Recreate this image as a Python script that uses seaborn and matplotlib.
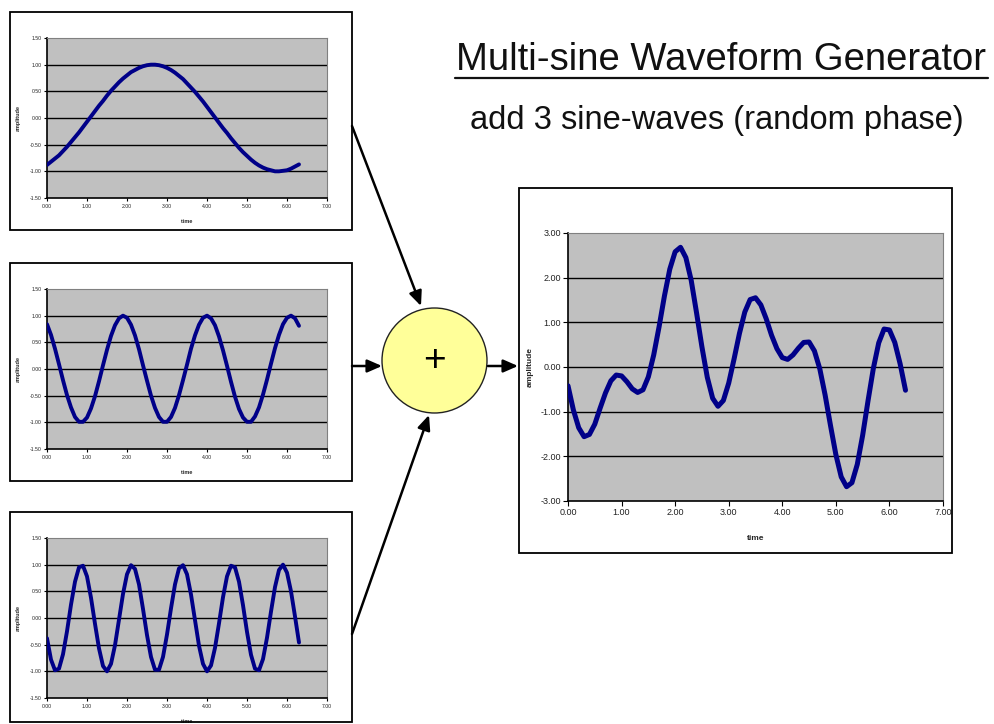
import numpy as np
import pandas as pd
import seaborn as sns
import matplotlib.pyplot as plt
from matplotlib.patches import Rectangle, Ellipse, FancyArrowPatch
from matplotlib.lines import Line2D

# sample times, 0.1 apart (0 .. 6.3)
time = np.linspace(0, 6.3, 64)

# the three input sine-waves
wave_1 = [-0.88, -0.82, -0.76, -0.70, -0.62, -0.54, -0.45, -0.36, -0.27, -0.17,
          -0.07, 0.03, 0.13, 0.23, 0.32, 0.42, 0.51, 0.59, 0.67, 0.74,
          0.80, 0.86, 0.90, 0.94, 0.97, 0.99, 1.00, 1.00, 0.99, 0.97,
          0.94, 0.90, 0.85, 0.79, 0.73, 0.65, 0.57, 0.49, 0.40, 0.31,
          0.21, 0.11, 0.01, -0.09, -0.19, -0.28, -0.38, -0.47, -0.56, -0.64,
          -0.71, -0.78, -0.84, -0.89, -0.93, -0.96, -0.98, -1.00, -1.00, -0.99,
          -0.98, -0.95, -0.91, -0.87]
wave_2 = [0.84, 0.64, 0.38, 0.09, -0.21, -0.49, -0.72, -0.90, -0.99, -0.99,
          -0.91, -0.74, -0.51, -0.23, 0.07, 0.36, 0.62, 0.82, 0.95, 1.00,
          0.96, 0.83, 0.63, 0.37, 0.07, -0.22, -0.50, -0.73, -0.90, -0.99,
          -0.99, -0.90, -0.73, -0.49, -0.21, 0.08, 0.38, 0.63, 0.83, 0.96,
          1.00, 0.95, 0.82, 0.61, 0.35, 0.06, -0.24, -0.52, -0.75, -0.91,
          -0.99, -0.99, -0.89, -0.72, -0.48, -0.20, 0.10, 0.39, 0.64, 0.84,
          0.96, 1.00, 0.95, 0.81]
wave_3 = [-0.38, -0.78, -0.98, -0.95, -0.68, -0.25, 0.25, 0.68, 0.95, 0.98,
          0.78, 0.38, -0.11, -0.57, -0.90, -1.00, -0.86, -0.51, -0.03, 0.45,
          0.82, 0.99, 0.92, 0.63, 0.17, -0.32, -0.73, -0.97, -0.97, -0.73,
          -0.31, 0.18, 0.63, 0.93, 0.99, 0.82, 0.44, -0.04, -0.52, -0.86,
          -1.00, -0.89, -0.56, -0.10, 0.39, 0.78, 0.98, 0.95, 0.68, 0.24,
          -0.26, -0.69, -0.95, -0.98, -0.77, -0.37, 0.12, 0.58, 0.90, 1.00,
          0.85, 0.50, 0.03, -0.46]

# the output is the sum of the three inputs
multi_sine = np.array(wave_1) + np.array(wave_2) + np.array(wave_3)

x_ticks = [0, 1, 2, 3, 4, 5, 6, 7]
small_y_ticks = [-1.5, -1.0, -0.5, 0.0, 0.5, 1.0, 1.5]
big_y_ticks = [-3, -2, -1, 0, 1, 2, 3]

W, H = 994, 724
NAVY = '#000088'
PLOT_BG = '#c0c0c0'

sns.set_style('white')
plt.rcParams['font.family'] = ['Liberation Sans', 'DejaVu Sans']

fig = plt.figure(figsize=(W / 100, H / 100), dpi=100)


def pt(x, y):
    # pixel position (top-left origin) -> figure fraction
    return (x / W, 1 - y / H)


def chart_box(x0, y0, x1, y1):
    fig.add_artist(Rectangle(pt(x0, y1), (x1 - x0) / W, (y1 - y0) / H,
                             transform=fig.transFigure, fill=False,
                             ec='black', lw=1.3))


def excel_chart(plot_px, values, y_ticks, tick_size, label_size, lw, tick_len,
                ylab_x, xlab_y):
    x0, y0, x1, y1 = plot_px
    ax = fig.add_axes([x0 / W, 1 - y1 / H, (x1 - x0) / W, (y1 - y0) / H])
    df = pd.DataFrame({'time': time, 'amplitude': values})
    sns.lineplot(data=df, x='time', y='amplitude', ax=ax, color=NAVY, lw=lw,
                 zorder=3)
    ax.set_facecolor(PLOT_BG)
    for y in y_ticks[1:-1]:
        ax.axhline(y, color='black', lw=1.0, zorder=1)
    ax.set_xlim(0, 7)
    ax.set_ylim(y_ticks[0], y_ticks[-1])
    ax.set_xticks(x_ticks)
    ax.set_yticks(y_ticks)
    ax.set_xticklabels([f'{v:.2f}' for v in x_ticks])
    ax.set_yticklabels([f'{v:.2f}' for v in y_ticks])
    ax.tick_params(bottom=True, left=True, direction='out', length=tick_len,
                   width=0.8, labelsize=tick_size, pad=1.5, colors='black',
                   labelcolor='#222222')
    for side in ['top', 'right']:
        ax.spines[side].set_color('#808080')
        ax.spines[side].set_linewidth(0.8)
    for side in ['left', 'bottom']:
        ax.spines[side].set_color('black')
        ax.spines[side].set_linewidth(1.2)
    ax.set_xlabel('time', fontsize=label_size, fontweight='bold')
    ax.set_ylabel('amplitude', fontsize=label_size, fontweight='bold')
    ax.yaxis.set_label_coords(ylab_x, 0.5)
    ax.xaxis.set_label_coords(0.5, xlab_y)
    return ax


# three input charts on the left
small_boxes = [(10, 12, 352, 230), (10, 263, 352, 481), (10, 512, 352, 722)]
small_plots = [(47, 38, 327, 198), (47, 289, 327, 449), (47, 538, 327, 698)]
for box, plot_px, wave in zip(small_boxes, small_plots, [wave_1, wave_2, wave_3]):
    chart_box(*box)
    excel_chart(plot_px, wave, small_y_ticks, 3.7, 4, 2.8, 2.5, -0.095, -0.13)

# summed waveform on the right
chart_box(519, 188, 952, 553)
excel_chart((568, 233, 943, 501), multi_sine, big_y_ticks, 6.5, 6, 3.6, 3.5,
            -0.09, -0.125)

# summing junction
fig.add_artist(Ellipse(pt(434.5, 360.5), 105 / W, 105 / H,
                       transform=fig.transFigure, fc='#ffff99', ec='#222222',
                       lw=1.0))
fig.text(434.5 / W, 1 - 361 / H, '+', ha='center', va='center',
         fontsize=28, color='black')

arrows = [((352, 126), (421, 306)), ((352, 366), (382, 366)),
          ((352, 634), (429, 415)), ((488, 366), (518, 366))]
for start, end in arrows:
    fig.add_artist(FancyArrowPatch(pt(*start), pt(*end),
                                   transform=fig.transFigure,
                                   arrowstyle='-|>,head_length=0.8,head_width=0.35',
                                   mutation_scale=11, lw=1.8, color='black',
                                   shrinkA=0, shrinkB=0))

# title block
fig.text(721 / W, 1 - 70 / H, 'Multi-sine Waveform Generator', ha='center',
         va='baseline', fontsize=27.5, color='#111111')
fig.add_artist(Line2D([455 / W, 988 / W], [1 - 78 / H, 1 - 78 / H],
                      transform=fig.transFigure, color='#111111', lw=1.6))
fig.text(717 / W, 1 - 129 / H, 'add 3 sine-waves (random phase)', ha='center',
         va='baseline', fontsize=23.5, color='#111111')

fig.savefig('out.png', dpi=100)
